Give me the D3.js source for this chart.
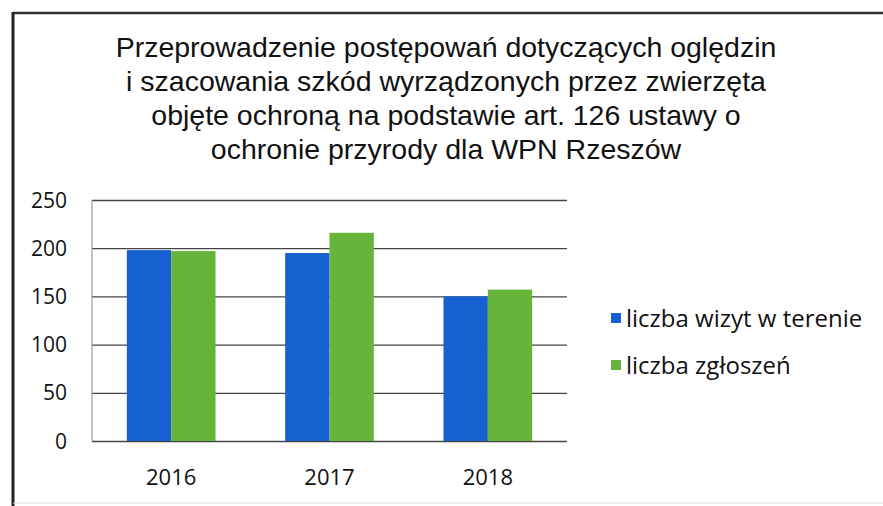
<!DOCTYPE html>
<html>
<head>
<meta charset="utf-8">
<script src="https://cdn.jsdelivr.net/npm/d3@7"></script>
<style>
  html, body { margin: 0; padding: 0; background: #fff; }
  svg { display: block; }
</style>
</head>
<body>
<div id="chart"></div>
<script>
// chart data
const years = ['2016', '2017', '2018'];
const seriesNames = ['liczba wizyt w terenie', 'liczba zgłoszeń'];
const visits = [198, 195, 150];
const reports = [197, 216, 157];
const yTicks = [0, 50, 100, 150, 200, 250];
const titleLines = [
    'Przeprowadzenie postępowań dotyczących oględzin',
    'i szacowania szkód wyrządzonych przez zwierzęta',
    'objęte ochroną na podstawie art. 126 ustawy o',
    'ochronie przyrody dla WPN Rzeszów'
];
const colors = ['#1760d2', '#67b43a'];

const width = 883, height = 506;
const plot = { left: 92, right: 567, top: 200, bottom: 441 };
const labelFont = '"Open Sans", "Noto Sans", sans-serif';

const svg = d3.select('#chart').append('svg')
    .attr('width', width)
    .attr('height', height);

// outer frame (scanned page border: top and left, faint bottom)
svg.append('line').attr('x1', 13).attr('x2', width).attr('y1', 13).attr('y2', 13)
    .attr('stroke', '#333').attr('stroke-width', 2.5);
svg.append('line').attr('x1', 13).attr('x2', 13).attr('y1', 12).attr('y2', height)
    .attr('stroke', '#222').attr('stroke-width', 3);
svg.append('line').attr('x1', 13).attr('x2', width).attr('y1', 503).attr('y2', 503)
    .attr('stroke', '#ddd').attr('stroke-width', 1);

// title
svg.append('g').selectAll('text')
    .data(titleLines)
    .enter()
    .append('text')
    .attr('x', 446)
    .attr('y', (d, i) => 57 + i * 34)
    .attr('text-anchor', 'middle')
    .style('font-family', '"Liberation Sans", Arial, sans-serif')
    .style('font-size', '28.5px')
    .style('fill', '#111')
    .text(d => d);

// scales
const x = d3.scaleBand().domain(years).range([plot.left, plot.right]).paddingInner(0.44).paddingOuter(0.22);
const xSub = d3.scaleBand().domain([0, 1]).range([0, x.bandwidth()]);
const y = d3.scaleLinear().domain([0, 250]).range([plot.bottom, plot.top]);

// gridlines
svg.append('g')
    .attr('transform', `translate(${plot.left},0)`)
    .call(d3.axisLeft(y).tickValues(yTicks).tickSize(-(plot.right - plot.left)).tickFormat(''))
    .call(g => g.select('.domain').remove())
    .call(g => g.selectAll('line').attr('stroke', '#444').attr('stroke-width', 1.3));

// left axis line
svg.append('line')
    .attr('x1', plot.left).attr('x2', plot.left)
    .attr('y1', plot.top).attr('y2', plot.bottom)
    .attr('stroke', '#888').attr('stroke-width', 1);

// y tick labels
svg.append('g').selectAll('text')
    .data(yTicks)
    .enter()
    .append('text')
    .attr('x', 67)
    .attr('y', d => y(d))
    .attr('dy', '0.36em')
    .attr('text-anchor', 'end')
    .style('font-family', labelFont)
    .style('font-size', '21px')
    .style('fill', '#111')
    .text(d => d);

// bars
const series = [visits, reports];
const groups = svg.append('g').selectAll('g')
    .data(years)
    .enter()
    .append('g')
    .attr('transform', d => `translate(${x(d)},0)`);

groups.selectAll('rect')
    .data((d, i) => series.map((s, k) => ({ k, v: s[i] })))
    .enter()
    .append('rect')
    .attr('x', d => xSub(d.k))
    .attr('width', xSub.bandwidth())
    .attr('y', d => y(d.v))
    .attr('height', d => y(0) - y(d.v))
    .attr('fill', d => colors[d.k]);

// x labels
svg.append('g').selectAll('text')
    .data(years)
    .enter()
    .append('text')
    .attr('x', d => x(d) + x.bandwidth() / 2)
    .attr('y', 485)
    .attr('text-anchor', 'middle')
    .style('font-family', labelFont)
    .style('font-size', '22px')
    .style('fill', '#111')
    .text(d => d);

// legend
const legend = svg.append('g').selectAll('g')
    .data(seriesNames)
    .enter()
    .append('g')
    .attr('transform', (d, i) => `translate(611,${318 + i * 47})`);

legend.append('rect')
    .attr('x', 0).attr('y', -5)
    .attr('width', 10).attr('height', 10)
    .attr('fill', (d, i) => colors[i]);

legend.append('text')
    .attr('x', 15)
    .attr('y', 0)
    .attr('dy', '0.36em')
    .style('font-family', labelFont)
    .style('font-size', '24px')
    .style('fill', '#111')
    .text(d => d);
</script>
</body>
</html>
